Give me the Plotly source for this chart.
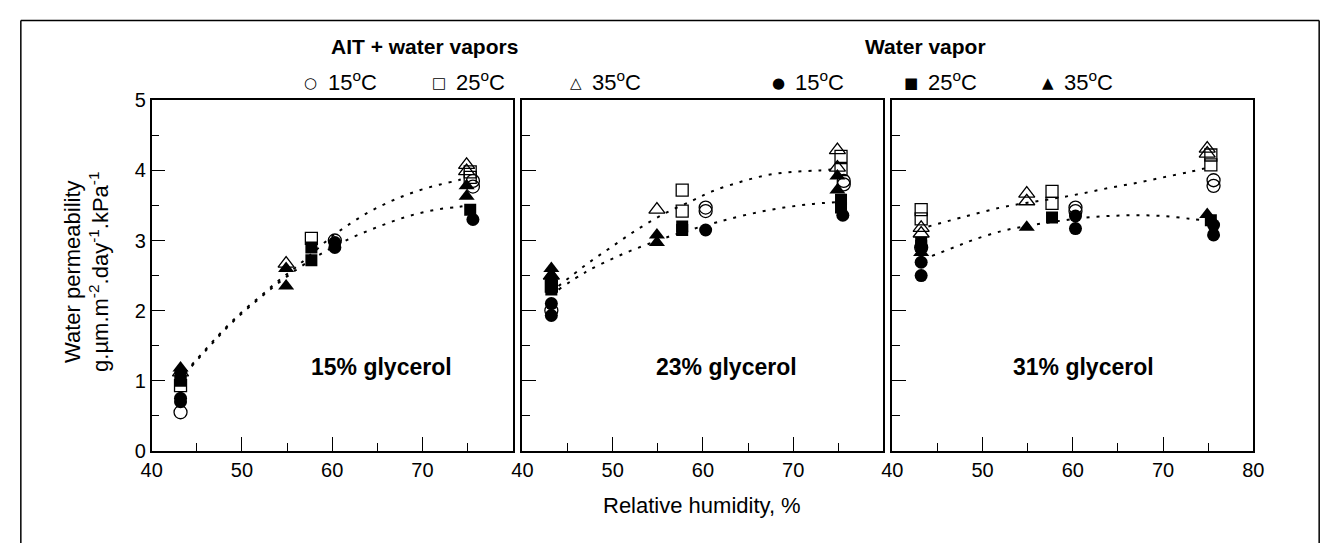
import plotly.graph_objects as go

FONT = "Liberation Sans, Arial, sans-serif"

# ---------------- data ----------------
# panel 1 : 15% glycerol
p1_ait15_x = [43.2, 60.3, 75.6, 75.6]; p1_ait15_y = [0.55, 3.00, 3.85, 3.77]
p1_wv15_x = [43.2, 43.2, 60.3, 60.3, 75.6]; p1_wv15_y = [0.75, 0.70, 2.97, 2.90, 3.30]
p1_ait25_x = [43.2, 57.7, 75.3, 75.3]; p1_ait25_y = [0.93, 3.03, 3.98, 3.90]
p1_wv25_x = [43.2, 43.2, 57.7, 57.7, 75.3]; p1_wv25_y = [1.07, 1.00, 2.90, 2.72, 3.44]
p1_ait35_x = [43.2, 54.9, 74.9, 74.9]; p1_ait35_y = [1.12, 2.67, 4.08, 3.99]
p1_wv35_x = [43.2, 54.9, 54.9, 74.9, 74.9]; p1_wv35_y = [1.18, 2.60, 2.35, 3.78, 3.63]

# panel 2 : 23% glycerol
p2_ait15_x = [43.2, 60.3, 60.3, 75.6, 75.6]; p2_ait15_y = [2.00, 3.47, 3.42, 3.85, 3.80]
p2_wv15_x = [43.2, 43.2, 60.3, 75.5]; p2_wv15_y = [2.10, 1.93, 3.15, 3.36]
p2_ait25_x = [43.2, 57.7, 57.7, 75.3, 75.3]; p2_ait25_y = [2.35, 3.72, 3.42, 4.20, 4.01]
p2_wv25_x = [43.2, 43.2, 57.7, 57.7, 75.3, 75.3]; p2_wv25_y = [2.40, 2.30, 3.20, 3.15, 3.58, 3.47]
p2_ait35_x = [43.2, 54.9, 74.9, 74.9]; p2_ait35_y = [2.50, 3.44, 4.29, 4.04]
p2_wv35_x = [43.2, 43.2, 54.9, 54.9, 74.9, 74.9]; p2_wv35_y = [2.60, 2.50, 3.08, 2.97, 3.92, 3.72]

# panel 3 : 31% glycerol
p3_ait15_x = [43.2, 60.3, 60.3, 75.6, 75.6]; p3_ait15_y = [2.90, 3.47, 3.42, 3.86, 3.78]
p3_wv15_x = [43.2, 43.2, 60.3, 60.3, 75.6, 75.6]; p3_wv15_y = [2.69, 2.50, 3.35, 3.17, 3.22, 3.08]
p3_ait25_x = [43.2, 43.2, 57.7, 57.7, 75.3, 75.3]; p3_ait25_y = [3.44, 3.31, 3.70, 3.53, 4.22, 4.08]
p3_wv25_x = [43.2, 43.2, 57.7, 75.3]; p3_wv25_y = [2.97, 2.92, 3.33, 3.29]
p3_ait35_x = [43.2, 43.2, 54.9, 54.9, 74.9, 74.9]; p3_ait35_y = [3.18, 3.10, 3.67, 3.56, 4.31, 4.24]
p3_wv35_x = [43.2, 54.9, 74.9]; p3_wv35_y = [2.83, 3.19, 3.37]

# dotted fitted curves
p1_up_x = [43.7, 46, 48, 50, 52, 54, 56, 58, 60, 62, 64, 66, 68, 70, 72, 74, 75]
p1_up_y = [1.12, 1.45, 1.73, 1.98, 2.20, 2.42, 2.62, 2.84, 3.06, 3.24, 3.40, 3.53, 3.64, 3.73, 3.80, 3.86, 3.90]
p1_lo_x = [43.7, 46, 48, 50, 52, 54, 56, 58, 60, 62, 64, 66, 68, 70, 72, 74, 75]
p1_lo_y = [1.10, 1.43, 1.71, 1.96, 2.18, 2.39, 2.58, 2.75, 2.90, 3.03, 3.14, 3.24, 3.33, 3.40, 3.45, 3.48, 3.50]
p2_up_x = [44, 47, 50, 53, 56, 59, 61, 64, 67, 70, 73, 75]
p2_up_y = [2.35, 2.65, 2.92, 3.18, 3.40, 3.58, 3.70, 3.83, 3.93, 3.98, 4.00, 4.02]
p2_lo_x = [44, 47, 51, 55, 58, 61, 63, 66, 69, 72, 75]
p2_lo_y = [2.30, 2.55, 2.80, 3.00, 3.13, 3.24, 3.31, 3.40, 3.47, 3.52, 3.55]
p3_up_x = [44, 48, 52, 55, 58, 61, 64, 67, 70, 73, 75]
p3_up_y = [3.20, 3.34, 3.47, 3.54, 3.60, 3.67, 3.75, 3.82, 3.90, 3.98, 4.04]
p3_lo_x = [44.4, 47, 49, 52, 55, 58, 61, 64, 67, 70, 73, 75]
p3_lo_y = [2.78, 2.91, 3.01, 3.13, 3.21, 3.27, 3.32, 3.35, 3.36, 3.35, 3.31, 3.28]

panel_labels = ["15% glycerol", "23% glycerol", "31% glycerol"]
legend_symbols = ["○", "□", "△", "●", "■", "▲"]
legend_temps = ["15", "25", "35", "15", "25", "35"]
y_ticks = [0, 1, 2, 3, 4, 5]
x_ticks_short = [40, 50, 60, 70]
x_ticks_full = [40, 50, 60, 70, 80]

# ---------------- figure ----------------
W, H = 1340, 554
fig = go.Figure()

def fx(px):
    return px / W

def fy(py):
    return 1 - py / H

panels = [
    dict(curves=[(p1_up_x, p1_up_y), (p1_lo_x, p1_lo_y)],
         series=[(p1_ait15_x, p1_ait15_y, "circle-open"), (p1_ait25_x, p1_ait25_y, "square-open"),
                 (p1_ait35_x, p1_ait35_y, "triangle-up-open"), (p1_wv15_x, p1_wv15_y, "circle"),
                 (p1_wv25_x, p1_wv25_y, "square"), (p1_wv35_x, p1_wv35_y, "triangle-up")]),
    dict(curves=[(p2_up_x, p2_up_y), (p2_lo_x, p2_lo_y)],
         series=[(p2_ait15_x, p2_ait15_y, "circle-open"), (p2_ait25_x, p2_ait25_y, "square-open"),
                 (p2_ait35_x, p2_ait35_y, "triangle-up-open"), (p2_wv15_x, p2_wv15_y, "circle"),
                 (p2_wv25_x, p2_wv25_y, "square"), (p2_wv35_x, p2_wv35_y, "triangle-up")]),
    dict(curves=[(p3_up_x, p3_up_y), (p3_lo_x, p3_lo_y)],
         series=[(p3_ait15_x, p3_ait15_y, "circle-open"), (p3_ait25_x, p3_ait25_y, "square-open"),
                 (p3_ait35_x, p3_ait35_y, "triangle-up-open"), (p3_wv15_x, p3_wv15_y, "circle"),
                 (p3_wv25_x, p3_wv25_y, "square"), (p3_wv35_x, p3_wv35_y, "triangle-up")]),
]

x_domains = [(143, 510), (520, 887), (896, 1263)]
y_domain = [fy(458), fy(93)]

for i, p in enumerate(panels):
    xa = "x" if i == 0 else f"x{i+1}"
    ya = "y" if i == 0 else f"y{i+1}"
    for cx, cy in p["curves"]:
        fig.add_trace(go.Scatter(x=cx, y=cy, mode="lines", xaxis=xa, yaxis=ya,
                                 line=dict(color="black", width=2, dash="3px,7px", shape="spline"),
                                 showlegend=False, hoverinfo="skip"))
    for sx, sy, sym in p["series"]:
        is_open = sym.endswith("open")
        size = 14 if "triangle" in sym else (12 if "square" in sym else 13)
        fig.add_trace(go.Scatter(x=sx, y=sy, mode="markers", xaxis=xa, yaxis=ya,
                                 marker=dict(symbol=sym, size=size, color="black",
                                             line=dict(color="black", width=1.3 if is_open else 0)),
                                 showlegend=False))

    key_x = "xaxis" if i == 0 else f"xaxis{i+1}"
    key_y = "yaxis" if i == 0 else f"yaxis{i+1}"
    fig.layout[key_x] = dict(
        domain=[fx(x_domains[i][0]), fx(x_domains[i][1])], anchor=ya, range=[40, 80],
        tickvals=x_ticks_full if i == 2 else x_ticks_short,
        ticks="inside", ticklen=14, tickwidth=1.2, tickcolor="black",
        minor=dict(dtick=5, tick0=40, ticks="inside", ticklen=8, tickwidth=1, tickcolor="black"),
        showline=True, linecolor="black", linewidth=1.5, mirror=True,
        showgrid=False, zeroline=False,
        tickfont=dict(family=FONT, size=20, color="black"),
    )
    fig.layout[key_y] = dict(
        domain=y_domain, anchor=xa, range=[0, 5],
        tickvals=y_ticks, showticklabels=(i == 0),
        ticks="inside", ticklen=14, tickwidth=1.2, tickcolor="black",
        minor=dict(dtick=0.5, tick0=0, ticks="inside", ticklen=8, tickwidth=1, tickcolor="black"),
        showline=True, linecolor="black", linewidth=1.5, mirror=True,
        showgrid=False, zeroline=False,
        tickfont=dict(family=FONT, size=20, color="black"),
    )

annotations = []
# panel labels
label_x = [377, 727, 1090]
for lx, txt in zip(label_x, panel_labels):
    annotations.append(dict(x=fx(lx), y=fy(371), xref="paper", yref="paper", text=f"<b>{txt}</b>",
                            showarrow=False, font=dict(family=FONT, size=23, color="black"),
                            xanchor="center", yanchor="middle"))
# group titles
annotations.append(dict(x=fx(420), y=fy(37), xref="paper", yref="paper", text="<b>AIT + water vapors</b>",
                        showarrow=False, font=dict(family=FONT, size=21, color="black"),
                        xanchor="center", yanchor="middle"))
annotations.append(dict(x=fx(930), y=fy(37), xref="paper", yref="paper", text="<b>Water vapor</b>",
                        showarrow=False, font=dict(family=FONT, size=21, color="black"),
                        xanchor="center", yanchor="middle"))
# legend row
legend_sym_x = [305, 435, 574, 780, 915, 1054]
for sym, t, sx in zip(legend_symbols, legend_temps, legend_sym_x):
    annotations.append(dict(x=fx(sx), y=fy(75), xref="paper", yref="paper", text=sym,
                            showarrow=False, font=dict(family="DejaVu Sans", size=15, color="black"),
                            xanchor="center", yanchor="middle"))
    annotations.append(dict(x=fx(sx + 15), y=fy(73), xref="paper", yref="paper",
                            text=f"{t}<sup>o</sup>C", showarrow=False,
                            font=dict(family=FONT, size=22, color="black"),
                            xanchor="left", yanchor="middle"))
# axis titles
annotations.append(dict(x=fx(703), y=fy(515), xref="paper", yref="paper", text="Relative humidity, %",
                        showarrow=False, font=dict(family=FONT, size=22, color="black"),
                        xanchor="center", yanchor="middle"))
annotations.append(dict(x=fx(77), y=fy(272), xref="paper", yref="paper", textangle=-90,
                        text="Water permeability<br>g.\u00b5m.m<sup>-2</sup>.day<sup>-1</sup>.kPa<sup>-1</sup>",
                        showarrow=False, font=dict(family=FONT, size=22, color="black"),
                        xanchor="center", yanchor="middle"))

frame = dict(color="black", width=1.5)
fig.update_layout(
    width=W, height=H, margin=dict(l=0, r=0, t=0, b=0),
    paper_bgcolor="white", plot_bgcolor="white",
    showlegend=False, annotations=annotations,
    shapes=[
        dict(type="line", xref="paper", yref="paper", x0=fx(10), x1=fx(1330), y0=fy(10), y1=fy(10), line=frame),
        dict(type="line", xref="paper", yref="paper", x0=fx(10), x1=fx(10), y0=fy(10), y1=0, line=frame),
        dict(type="line", xref="paper", yref="paper", x0=fx(1330), x1=fx(1330), y0=fy(10), y1=0, line=frame),
    ],
)

fig.write_html("out.html")
